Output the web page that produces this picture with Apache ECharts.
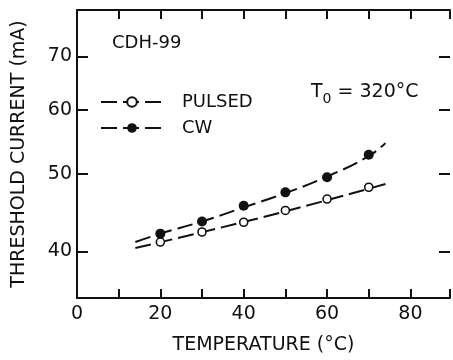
<!DOCTYPE html>
<html>
<head>
<meta charset="utf-8">
<script src="https://cdn.jsdelivr.net/npm/echarts@6/dist/echarts.min.js"></script>
<style>
  html, body { margin: 0; padding: 0; background: #fff; }
  #chart { width: 453px; height: 360px; }
</style>
</head>
<body>
<div id="chart"></div>
<script>
// measured points
const temps = [20, 30, 40, 50, 60, 70];
const pulsed = [41.1, 42.3, 43.5, 45.0, 46.5, 48.1];
const cw = [42.1, 43.6, 45.6, 47.4, 49.5, 52.8];

// dashed fit curves
const pulsedFitT = [14, 45, 75];
const pulsedFit = [40.4, 44.2, 48.7];
const cwFitT = [14, 20, 30, 40, 50, 60, 70, 74];
const cwFit = [41.1, 42.1, 43.6, 45.4, 47.3, 49.6, 52.6, 54.6];

const yTicks = [40, 50, 60, 70];

const ink = '#111';
const font = 'DejaVu Sans';
const zip = (xs, ys) => xs.map((x, i) => [x, ys[i]]);

const chart = echarts.init(document.getElementById('chart'), null, { renderer: 'canvas' });

const xBase = {
  type: 'value', min: 0, max: 89.5, interval: 10,
  axisLine: { onZero: false, lineStyle: { color: ink, width: 2 } },
  axisTick: { inside: true, length: 9, lineStyle: { color: ink, width: 2 } },
  splitLine: { show: false }
};
const yBase = {
  type: 'log', logBase: 10, min: 35, max: 80,
  axisLine: { show: true, onZero: false, lineStyle: { color: ink, width: 2 } },
  axisTick: { show: true, inside: true, length: 11, customValues: yTicks, lineStyle: { color: ink, width: 2 } },
  splitLine: { show: false },
  minorTick: { show: false }
};

chart.setOption({
  animation: false,
  backgroundColor: '#fff',
  textStyle: { fontFamily: font, color: ink },
  grid: { left: 77, right: 0, top: 10, bottom: 61 },
  legend: {
    orient: 'vertical',
    left: 95, top: 88,
    itemWidth: 62, itemHeight: 12, itemGap: 8,
    data: ['PULSED', 'CW'],
    textStyle: { fontFamily: font, fontSize: 18, color: ink, padding: [0, 0, 0, 14] }
  },
  xAxis: [
    Object.assign({}, xBase, {
      position: 'bottom',
      name: 'TEMPERATURE (°C)', nameLocation: 'middle', nameGap: 38,
      nameTextStyle: { fontFamily: font, fontSize: 19, color: ink },
      axisLabel: {
        fontFamily: font, fontSize: 19, color: ink, margin: 7,
        formatter: (v) => (v % 20 === 0 ? String(v) : '')
      }
    }),
    Object.assign({}, xBase, { position: 'top', axisLabel: { show: false } })
  ],
  yAxis: [
    Object.assign({}, yBase, {
      position: 'left',
      name: 'THRESHOLD CURRENT (mA)', nameLocation: 'middle', nameGap: 48,
      nameTextStyle: { fontFamily: font, fontSize: 19, color: ink },
      axisLabel: { fontFamily: font, fontSize: 19, color: ink, margin: 5, customValues: yTicks }
    }),
    Object.assign({}, yBase, {
      position: 'right',
      axisLine: { show: false, onZero: false },
      axisLabel: { show: false }
    })
  ],
  graphic: [
    { type: 'text', left: 112, top: 34, style: { text: 'CDH-99', font: '18px "DejaVu Sans"', fill: ink } },
    {
      type: 'text', left: 311, top: 83,
      style: {
        text: '{t|T}{s|0}{t| = 320°C}',
        rich: {
          t: { fontFamily: font, fontSize: 19, fill: ink, verticalAlign: 'top' },
          s: { fontFamily: font, fontSize: 14, fill: ink, padding: [9, 0, 0, 0] }
        }
      }
    }
  ],
  series: [
    {
      name: 'PULSED', type: 'line', smooth: true, showSymbol: false,
      symbol: 'circle', symbolSize: 8,
      itemStyle: { color: '#fff', borderColor: ink, borderWidth: 1.6 },
      lineStyle: { color: ink, width: 2, type: [16, 6] },
      data: zip(pulsedFitT, pulsedFit), z: 2
    },
    {
      name: 'CW', type: 'line', smooth: true, showSymbol: false,
      symbol: 'circle', symbolSize: 10,
      itemStyle: { color: ink },
      lineStyle: { color: ink, width: 2, type: [16, 6] },
      data: zip(cwFitT, cwFit), z: 2
    },
    {
      name: 'PULSED', type: 'scatter', symbol: 'circle', symbolSize: 8,
      itemStyle: { color: '#fff', borderColor: ink, borderWidth: 1.6, opacity: 1 },
      data: zip(temps, pulsed), z: 3
    },
    {
      name: 'CW', type: 'scatter', symbol: 'circle', symbolSize: 10,
      itemStyle: { color: ink, opacity: 1 },
      data: zip(temps, cw), z: 3
    }
  ]
});
</script>
</body>
</html>
